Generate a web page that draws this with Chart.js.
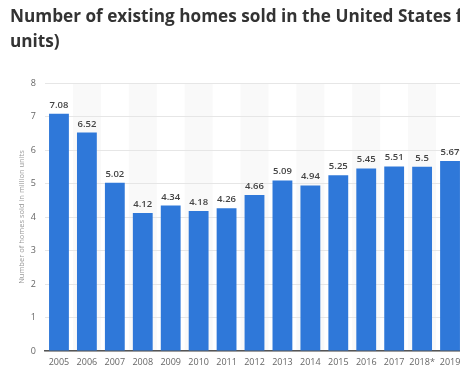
<!DOCTYPE html>
<html>
<head>
<meta charset="utf-8">
<script src="https://cdn.jsdelivr.net/npm/chart.js@4"></script>
<style>
  html, body { margin: 0; padding: 0; background: #fff; overflow: hidden; }
  #wrap { width: 470px; height: 369px; }
</style>
</head>
<body>
<div id="wrap"><canvas id="homesChart" width="470" height="369"></canvas></div>
<script>
const years = ["2005", "2006", "2007", "2008", "2009", "2010", "2011", "2012", "2013", "2014", "2015", "2016", "2017", "2018*", "2019"];
const homesSold = [7.08, 6.52, 5.02, 4.12, 4.34, 4.18, 4.26, 4.66, 5.09, 4.94, 5.25, 5.45, 5.51, 5.5, 5.67];
const yTicks = [0, 1, 2, 3, 4, 5, 6, 7, 8];

const titleLines = ["Number of existing homes sold in the United States from 2005 to 2019 (in million", "units)"];
const yTitle = "Number of homes sold in million units";

// title drawn by hand so the canvas does not squeeze it to fit
const titlePlugin = {
	id: "bigTitle",
	afterDraw(chart) {
		const ctx = chart.ctx;
		ctx.save();
		ctx.font = "bold 17.2px 'Open Sans'";
		ctx.fillStyle = "#333333";
		ctx.textAlign = "left";
		ctx.textBaseline = "alphabetic";
		titleLines.forEach((line, i) => {
			ctx.fillText(line, 10, 22 + i * 25);
		});
		ctx.restore();
	}
};

// light bands behind every other year
const bandPlugin = {
	id: "bands",
	beforeDraw(chart) {
		const ctx = chart.ctx;
		const area = chart.chartArea;
		const x = chart.scales.x;
		const w = x.width / years.length;
		ctx.save();
		ctx.fillStyle = "#f9f9f9";
		for (let i = 1; i < years.length; i += 2) {
			const cx = x.getPixelForValue(i);
			ctx.fillRect(cx - w / 2, area.top, w, area.bottom - area.top);
		}
		ctx.restore();
	}
};

// value labels above bars
const labelPlugin = {
	id: "valueLabels",
	afterDatasetsDraw(chart) {
		const ctx = chart.ctx;
		const meta = chart.getDatasetMeta(0);
		ctx.save();
		ctx.font = "600 9.5px 'Open Sans'";
		ctx.fillStyle = "#444444";
		ctx.textAlign = "center";
		ctx.textBaseline = "bottom";
		meta.data.forEach((bar, i) => {
			ctx.fillText(String(homesSold[i]), bar.x, bar.y - 4);
		});
		ctx.restore();
	}
};

const homesChart = document.getElementById("homesChart");

new Chart(homesChart, {
	type: "bar",
	data: {
		labels: years,
		datasets: [
			{
				label: "Homes sold",
				data: homesSold,
				backgroundColor: "#2f78d9",
				barPercentage: 0.71,
				categoryPercentage: 1
			}
		]
	},
	options: {
		responsive: false,
		animation: false,
		layout: {
			padding: { left: 10, right: 6, top: 83, bottom: 1 }
		},
		plugins: {
			legend: { display: false },
			tooltip: { enabled: false },
			title: { display: false }
		},
		scales: {
			x: {
				afterFit(scale) {
					scale.height = 17;
				},
				grid: { display: false, drawTicks: false },
				border: { color: "#555555", width: 1.5 },
				ticks: {
					color: "#666666",
					font: { family: "'Open Sans'", size: 9 },
					padding: 6,
					maxRotation: 0,
					autoSkip: false
				}
			},
			y: {
				min: 0,
				max: 8,
				afterBuildTicks(scale) {
					scale.ticks = yTicks.map(v => ({ value: v }));
				},
				afterFit(scale) {
					scale.width = 35;
				},
				grid: { color: "#e6e6e6", drawTicks: false },
				border: { display: false },
				ticks: {
					color: "#666666",
					font: { family: "'Open Sans'", size: 9 },
					padding: 9
				},
				title: {
					display: true,
					text: yTitle,
					color: "#999999",
					font: { family: "'Open Sans'", size: 7.5 },
					padding: { top: 7, bottom: 0 }
				}
			}
		}
	},
	plugins: [bandPlugin, labelPlugin, titlePlugin]
});
</script>
</body>
</html>
